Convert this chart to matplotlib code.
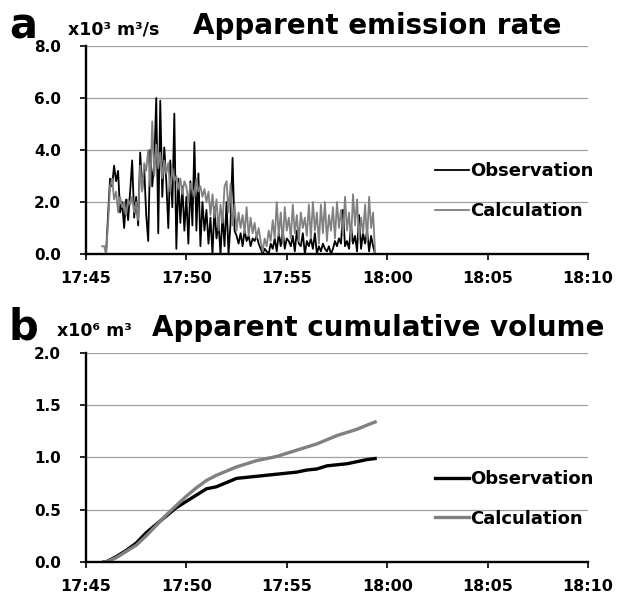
import numpy as np
import matplotlib.pyplot as plt

plt.rcParams['font.family'] = ['DejaVu Sans']
plt.rcParams['font.weight'] = 'bold'

# time axis: minutes after 17:45
tick_minutes = [0, 5, 10, 15, 20, 25]
tick_labels = ['17:45', '17:50', '17:55', '18:00', '18:05', '18:10']

# panel a: emission rate (x10^3 m3/s), sampled every 0.1 min from 17:45.8
rate_start = 0.8
rate_step = 0.1
obs_rate = [
    0.0, 0.0, 0.0, 1.5, 2.9, 2.6, 3.4, 2.8, 3.2, 1.6, 2.0, 1.0, 2.1, 1.3, 2.4, 3.6,
    1.4, 2.2, 1.1, 3.9, 2.5, 3.3, 1.5, 0.5, 4.0, 2.6, 3.5, 6.0, 0.8, 5.9, 2.2, 4.1,
    2.8, 1.0, 3.6, 1.8, 5.4, 0.2, 2.9, 1.2, 2.6, 0.9, 2.2, 0.4, 2.8, 1.1, 4.3, 0.9,
    3.1, 0.3, 2.0, 0.9, 1.7, 0.4, 1.4, 0.0, 1.8, 0.6, 1.2, 0.0, 1.5, 0.3, 2.0, 0.0,
    1.2, 3.7, 0.9, 0.7, 0.4, 0.8, 0.3, 0.9, 0.5, 0.7, 0.3, 0.6, 0.5, 0.7, 0.4, 0.2,
    0.0, 0.2, 0.1, 0.0, 0.4, 0.2, 0.6, 0.1, 0.8, 0.3, 0.9, 0.2, 0.6, 0.5, 0.3, 0.7,
    0.1, 0.9, 0.4, 0.3, 0.8, 0.0, 0.5, 0.3, 0.6, 0.2, 0.8, 0.0, 0.3, 0.1, 0.4, 0.2,
    0.1, 0.3, 0.0, 0.2, 0.5, 0.3, 0.6, 0.4, 1.7, 0.3, 0.5, 0.2, 1.1, 0.4, 0.7, 0.1,
    1.5, 0.2, 0.8, 0.4, 0.9, 0.1, 0.7, 0.3, 0.0,
]
calc_rate = [
    0.3, 0.3, 0.0, 1.2, 2.6, 2.9, 2.1, 2.4, 1.6, 2.2, 1.8, 2.0, 1.5, 2.1, 1.9, 2.2,
    1.6, 2.0, 1.3, 3.4, 2.4, 3.5, 3.2, 4.0, 2.6, 5.1, 3.0, 4.2, 3.3, 3.9, 2.9, 3.6,
    3.1, 3.5, 2.4, 3.3, 2.8, 3.0, 2.5, 2.9, 2.3, 2.8, 2.6, 2.0, 2.7, 2.5, 2.2, 2.9,
    2.4, 2.6, 2.2, 2.5, 2.0, 2.4, 1.5, 2.3, 1.4, 2.1, 0.9, 1.9, 1.2, 2.6, 2.8, 1.6,
    2.7, 1.1, 1.9, 0.9, 1.6, 1.0, 1.5, 0.8, 1.8, 0.7, 1.4, 0.8, 1.2, 0.6, 1.0, 0.5,
    0.1, 0.6, 0.3, 0.9, 0.5, 1.3, 0.6, 2.0, 0.7, 1.6, 0.4, 1.8, 0.9, 1.4, 0.6, 1.9,
    0.8, 1.5, 0.5, 1.6, 1.0, 1.4, 0.7, 1.9, 0.6, 2.0, 0.9, 1.6, 0.4, 1.9, 0.8, 2.0,
    0.5, 1.5, 0.9, 1.8, 0.6, 2.0, 1.0, 1.7, 0.7, 2.2, 0.9, 1.6, 0.5, 2.3, 1.1, 2.1,
    0.6, 1.4, 0.8, 1.9, 0.5, 2.2, 1.0, 1.6, 0.0,
]
rate_minutes = rate_start + rate_step * np.arange(len(obs_rate))

# panel b: cumulative volume (x10^6 m3)
cum_minutes = [0.9, 1.0, 1.5, 2.0, 2.5, 3.0, 3.5, 4.0, 4.5, 5.0, 5.5, 6.0, 6.5, 7.0, 7.5,
               8.0, 8.5, 9.0, 9.5, 10.0, 10.5, 11.0, 11.5, 12.0, 12.5, 13.0, 13.5, 14.0, 14.4]
obs_cum = [0.0, 0.0, 0.05, 0.11, 0.18, 0.28, 0.36, 0.44, 0.52, 0.58, 0.64, 0.70, 0.72, 0.76, 0.80,
           0.81, 0.82, 0.83, 0.84, 0.85, 0.86, 0.88, 0.89, 0.92, 0.93, 0.94, 0.96, 0.98, 0.99]
calc_cum = [0.0, 0.0, 0.04, 0.10, 0.16, 0.25, 0.35, 0.45, 0.54, 0.63, 0.71, 0.78, 0.83, 0.87, 0.91,
            0.94, 0.97, 0.99, 1.01, 1.04, 1.07, 1.10, 1.13, 1.17, 1.21, 1.24, 1.27, 1.31, 1.34]


def style_axes(ax, ymax, ystep):
    ax.set_xlim(0, 25)
    ax.set_ylim(0, ymax)
    ax.set_xticks(tick_minutes)
    ax.set_xticklabels(tick_labels)
    yt = np.arange(0, ymax + ystep / 2, ystep)
    ax.set_yticks(yt)
    ax.set_yticklabels(['%.1f' % v for v in yt])
    for y in yt[1:]:
        ax.axhline(y, color='#a0a0a0', linewidth=0.9, zorder=0)
    ax.spines['top'].set_visible(False)
    ax.spines['right'].set_visible(False)
    ax.spines['left'].set_linewidth(1.7)
    ax.spines['bottom'].set_linewidth(1.7)
    ax.tick_params(axis='x', direction='out', length=4, width=1.2, pad=8, labelsize=11.5)
    ax.tick_params(axis='y', direction='out', length=4, width=1.2, pad=14, labelsize=11)


fig = plt.figure(figsize=(6.34, 5.97), dpi=100)
ax1 = fig.add_axes([0.1356, 0.5745, 0.7918, 0.3484])
ax2 = fig.add_axes([0.1356, 0.0587, 0.7918, 0.3500])

ax1.plot(rate_minutes, obs_rate, color='black', linewidth=1.3, label='Observation')
ax1.plot(rate_minutes, calc_rate, color='#808080', linewidth=1.3, label='Calculation')
style_axes(ax1, 8.0, 2.0)
ax1.legend(loc='upper left', bbox_to_anchor=(0.68, 0.475), frameon=False, fontsize=13,
           handlelength=1.9, handletextpad=0.05, labelspacing=1.2, borderaxespad=0)

ax2.plot(cum_minutes, obs_cum, color='black', linewidth=2.4, label='Observation')
ax2.plot(cum_minutes, calc_cum, color='#808080', linewidth=2.4, label='Calculation')
style_axes(ax2, 2.0, 0.5)
ax2.legend(loc='upper left', bbox_to_anchor=(0.68, 0.475), frameon=False, fontsize=13,
           handlelength=1.9, handletextpad=0.05, labelspacing=1.2, borderaxespad=0)

fig.text(0.014, 0.935, 'a', fontsize=30, fontweight='heavy', va='baseline')
fig.text(0.107, 0.943, 'x10³ m³/s', fontsize=12.5, va='baseline')
fig.text(0.305, 0.943, 'Apparent emission rate', fontsize=20, va='baseline')
fig.text(0.014, 0.432, 'b', fontsize=30, fontweight='heavy', va='baseline')
fig.text(0.090, 0.437, 'x10⁶ m³', fontsize=12.5, va='baseline')
fig.text(0.240, 0.437, 'Apparent cumulative volume', fontsize=20, va='baseline')

fig.savefig('out.png', dpi=100)
